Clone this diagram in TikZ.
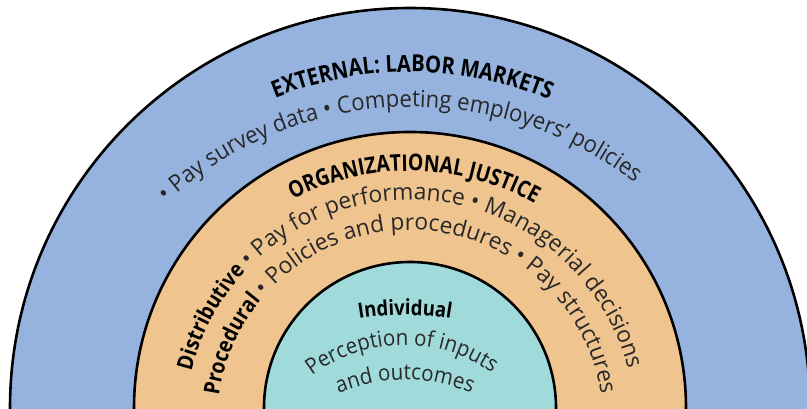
\documentclass[tikz,border=0pt]{standalone}
\usepackage{fontspec}
\usetikzlibrary{decorations.text}
\setmainfont{Open Sans}
\newfontfamily\rfont[FakeStretch=0.94]{Open Sans}
\newfontfamily\bfontfam[FakeStretch=0.86]{Open Sans}
\newcommand\bfont{\bfontfam\bfseries}
\definecolor{ringblue}{RGB}{149,179,222}
\definecolor{ringorange}{RGB}{239,196,143}
\definecolor{ringteal}{RGB}{160,218,218}
\definecolor{txtgray}{RGB}{40,40,40}
\newcommand\arctxt[6]{\path[decorate,decoration={text along path,text align=center,text={#6}}] ([shift={(#4:#3)}]#1,#2) arc[start angle=#4,end angle=#5,radius=#3];}
\tikzset{ring/.style={draw=black,line width=2.6pt}}
\begin{document}
\begin{tikzpicture}[x=1pt,y=1pt]
\useasboundingbox (0,0) rectangle (807,408);
\clip (0,0) rectangle (807,408);
\coordinate (c) at (410,0);
\fill[white] (0,0) rectangle (807,408);
\filldraw[ring,fill=ringblue] (c) circle (400);
\filldraw[ring,fill=ringorange] (c) circle (276);
\filldraw[ring,fill=ringteal] (c) circle (146);
% outer ring
\arctxt{410}{-25}{361}{169.6}{9.6}{|\bfont\fontsize{23.5}{27}\selectfont|EXTERNAL: LABOR MARKETS}
\arctxt{412}{-63}{364}{172.35}{12.35}{|\rfont\fontsize{23.5}{27}\selectfont\color{txtgray}|• Pay survey data • Competing employers’ policies}
% middle ring
\arctxt{410}{-17}{254}{169}{9}{|\bfont\fontsize{23}{27}\selectfont\addfontfeature{FakeStretch=0.84}|ORGANIZATIONAL JUSTICE}
\arctxt{410}{-17}{225}{175.25}{5.25}{|\bfont\fontsize{22}{26}\selectfont\addfontfeature{FakeStretch=0.88}|Distributive |\rfont\fontsize{23}{27}\selectfont\addfontfeature{FakeStretch=0.99}\color{txtgray}|• Pay for performance • Managerial decisions}
\arctxt{410}{-15}{193}{175.25}{5.25}{|\bfont\fontsize{22}{26}\selectfont\addfontfeature{FakeStretch=0.88}|Procedural |\rfont\fontsize{23}{27}\selectfont\addfontfeature{FakeStretch=0.99}\color{txtgray}|• Policies and procedures • Pay structures}
% inner
\arctxt{405}{-183}{276}{130}{50}{|\bfont\fontsize{21}{25}\selectfont\addfontfeature{FakeStretch=0.88}|Individual}
\arctxt{404}{-89}{152}{170.9}{10.9}{|\rfont\fontsize{22}{26}\selectfont\addfontfeature{FakeStretch=0.93}\color{txtgray}|Perception of inputs}
\arctxt{405}{-142}{170}{150}{30}{|\rfont\fontsize{22}{26}\selectfont\addfontfeature{FakeStretch=0.93}\color{txtgray}|and outcomes}
\end{tikzpicture}
\end{document}
